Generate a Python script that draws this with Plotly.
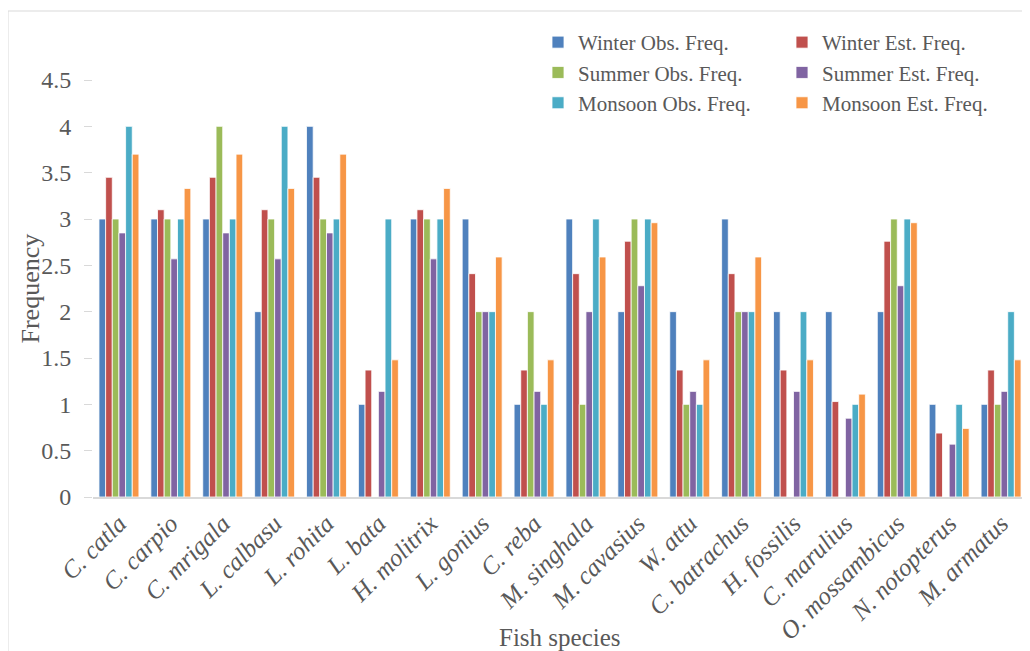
import plotly.graph_objects as go

species = ["C. catla", "C. carpio", "C. mrigala", "L. calbasu", "L. rohita", "L. bata",
           "H. molitrix", "L. gonius", "C. reba", "M. singhala", "M. cavasius", "W. attu",
           "C. batrachus", "H. fossilis", "C. marulius", "O. mossambicus", "N. notopterus",
           "M. armatus"]

winter_obs = [3, 3, 3, 2, 4, 1, 3, 3, 1, 3, 2, 2, 3, 2, 2, 2, 1, 1]
winter_est = [3.45, 3.10, 3.45, 3.10, 3.45, 1.37, 3.10, 2.41, 1.37, 2.41, 2.76, 1.37,
              2.41, 1.37, 1.03, 2.76, 0.69, 1.37]
summer_obs = [3, 3, 4, 3, 3, 0, 3, 2, 2, 1, 3, 1, 2, 0, 0, 3, 0, 1]
summer_est = [2.85, 2.57, 2.85, 2.57, 2.85, 1.14, 2.57, 2.00, 1.14, 2.00, 2.28, 1.14,
              2.00, 1.14, 0.85, 2.28, 0.57, 1.14]
monsoon_obs = [4, 3, 3, 4, 3, 3, 3, 2, 1, 3, 3, 1, 2, 2, 1, 3, 1, 2]
monsoon_est = [3.70, 3.33, 3.70, 3.33, 3.70, 1.48, 3.33, 2.59, 1.48, 2.59, 2.96, 1.48,
               2.59, 1.48, 1.11, 2.96, 0.74, 1.48]

y_ticks = [0, 0.5, 1, 1.5, 2, 2.5, 3, 3.5, 4, 4.5]
y_tick_text = ["0", "0.5", "1", "1.5", "2", "2.5", "3", "3.5", "4", "4.5"]

series = [
    ("Winter Obs. Freq.", winter_obs, "#4F81BD", "legend"),
    ("Winter Est. Freq.", winter_est, "#C0504D", "legend2"),
    ("Summer Obs. Freq.", summer_obs, "#9BBB59", "legend"),
    ("Summer Est. Freq.", summer_est, "#8064A2", "legend2"),
    ("Monsoon Obs. Freq.", monsoon_obs, "#4BACC6", "legend"),
    ("Monsoon Est. Freq.", monsoon_est, "#F79646", "legend2"),
]

FONT = "Liberation Serif"
GREY = "#595959"

fig = go.Figure()
for name, vals, color, lg in series:
    fig.add_trace(go.Bar(
        x=species, y=vals, name=name, legend=lg,
        marker=dict(color=color, line=dict(color="white", width=0.8)),
    ))

# the page body adds an 8px offset; all targets below are in page pixels
OFF = 8
W, H = 1030, 651
PL, PR, PT, PB = 93, 1027, 80, 497   # plot area in page pixels
L = PL - OFF
T = PT - OFF
R = W - (PR - OFF)
B = H - (PB - OFF)
pw = PR - PL
ph = PB - PT

def px_x(p):
    return (p - PL) / pw

def px_y(p):
    return (PB - p) / ph

fig.update_layout(
    width=W, height=H,
    margin=dict(l=L, r=R, t=T, b=B, autoexpand=False),
    paper_bgcolor="white", plot_bgcolor="white",
    barmode="group", bargap=0.23, bargroupgap=0,
    font=dict(family=FONT, color=GREY, size=21),
    showlegend=True,
    legend=dict(x=px_x(538), y=px_y(22), xanchor="left", yanchor="top",
                orientation="v", bgcolor="rgba(0,0,0,0)",
                font=dict(family=FONT, size=21, color=GREY),
                traceorder="normal", itemwidth=30),
    legend2=dict(x=px_x(782), y=px_y(22), xanchor="left", yanchor="top",
                 orientation="v", bgcolor="rgba(0,0,0,0)",
                 font=dict(family=FONT, size=21, color=GREY),
                 traceorder="normal", itemwidth=30),
    xaxis=dict(
        tickangle=-45, showgrid=False, showline=True, linecolor="#D9D9D9",
        linewidth=2, ticks="", automargin=False,
        tickfont=dict(family=FONT, size=25, color=GREY, style="italic"),
        zeroline=False,
    ),
    yaxis=dict(
        range=[0, 4.5], tickvals=y_ticks, ticktext=y_tick_text,
        showgrid=False, showline=False, zeroline=False, automargin=False,
        ticks="outside", ticklen=8, tickcolor="#D9D9D9", tickwidth=1,
        ticklabelstandoff=8,
        tickfont=dict(family=FONT, size=24, color=GREY),
    ),
    annotations=[
        dict(text="Frequency", xref="paper", yref="paper", x=px_x(30), y=0.5,
             textangle=-90, showarrow=False, font=dict(family=FONT, size=26, color=GREY),
             xanchor="center", yanchor="middle"),
        dict(text="Fish species", xref="paper", yref="paper", x=0.5, y=px_y(637),
             showarrow=False, font=dict(family=FONT, size=25, color=GREY),
             xanchor="center", yanchor="middle"),
    ],
    shapes=[
        dict(type="rect", xref="paper", yref="paper",
             x0=px_x(8), x1=px_x(1045), y0=px_y(11), y1=px_y(670),
             line=dict(color="#D9D9D9", width=1), layer="below"),
    ],
)

fig.write_html("out.html")
